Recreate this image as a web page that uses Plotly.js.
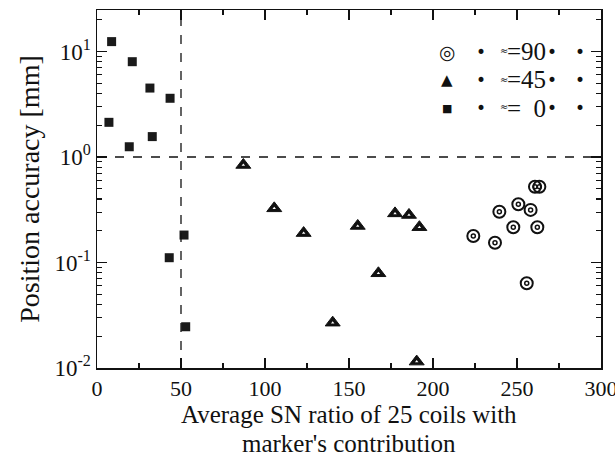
<!DOCTYPE html>
<html>
<head>
<meta charset="utf-8">
<script src="https://cdn.plot.ly/plotly-3.0.1.min.js"></script>
<style>html,body{margin:0;padding:0;background:#fff;}</style>
</head>
<body>
<div id="chart" style="width:615px;height:465px;"></div>
<script>
// Data
const sn0   = [8.7, 21.0, 31.5, 43.5, 7.1, 32.9, 19.2, 51.8, 43.0, 52.8];
const acc0  = [12.4, 8.0, 4.5, 3.6, 2.13, 1.56, 1.25, 0.182, 0.111, 0.0246];
const sn45  = [87.1, 105.5, 123.0, 140.3, 155.2, 167.5, 177.4, 185.7, 191.9, 190.3];
const acc45 = [0.84, 0.326, 0.19, 0.0269, 0.222, 0.079, 0.292, 0.282, 0.216, 0.0115];
const sn90  = [224.0, 236.9, 239.5, 247.8, 250.8, 258.1, 262.1, 260.7, 263.3, 255.8];
const acc90 = [0.178, 0.154, 0.303, 0.216, 0.356, 0.315, 0.216, 0.523, 0.523, 0.0635];
const snThreshold = 50;
const accThreshold = 1;
const xTicks = [0, 50, 100, 150, 200, 250, 300];
const yTicks = [0.01, 0.1, 1, 10];
const yTickText = ["10<sup>-2</sup>", "10<sup>-1</sup>", "10<sup>0</sup>", "10<sup>1</sup>"];
const legendLabels = ["=90", "=45", "=  0"];
const xTitleLines = ["Average SN ratio of 25 coils with", "marker's contribution"];
const yTitle = "Position accuracy [mm]";

const FONT = "Liberation Serif";

const traces = [
  {x: sn0, y: acc0, mode: "markers", type: "scatter", name: "0",
   marker: {symbol: "square", size: 9, color: "#1a1a1a", line: {width: 0}}},
  {x: sn45, y: acc45, mode: "markers", type: "scatter", name: "45",
   marker: {symbol: "triangle-up", size: 13, color: "#111", line: {width: 1, color: "#111"}}},
  {x: sn45, y: acc45, mode: "markers", type: "scatter", name: "45i", showlegend: false,
   marker: {symbol: "triangle-up", size: 3, color: "#fff", line: {width: 0}}},
  {x: sn90, y: acc90, mode: "markers", type: "scatter", name: "90",
   marker: {symbol: "circle-open", size: 12, color: "#111", line: {width: 2, color: "#111"}}},
  {x: sn90, y: acc90, mode: "markers", type: "scatter", name: "90i", showlegend: false,
   marker: {symbol: "circle-open", size: 4, color: "#111", line: {width: 1.5, color: "#111"}}}
];

// layout helpers (pixel layout converted to paper coordinates)
const L = 97, R = 601, T = 10, B = 368;
const px = v => (v - L) / (R - L);
const py = v => (B - v) / (B - T);
const rowsY = [51.5, 80, 108];
const symbols = ["◎", "▲", "■"];
const symSizes = [19, 15, 11];
const annotations = [];
rowsY.forEach((ry, i) => {
  annotations.push({xref: "paper", yref: "paper", x: px(447), y: py(ry), text: symbols[i],
    showarrow: false, font: {family: "DejaVu Sans", size: symSizes[i], color: "#111"}, xanchor: "center", yanchor: "middle"});
  annotations.push({xref: "paper", yref: "paper", x: px(481), y: py(ry), text: "•",
    showarrow: false, font: {family: "DejaVu Sans", size: 17, color: "#111"}, xanchor: "center", yanchor: "middle"});
  annotations.push({xref: "paper", yref: "paper", x: px(510), y: py(ry - 1), text: "≈",
    showarrow: false, font: {family: "DejaVu Sans", size: 10, color: "#111"}, xanchor: "right", yanchor: "middle"});
  annotations.push({xref: "paper", yref: "paper", x: px(548), y: py(ry), text: legendLabels[i],
    showarrow: false, font: {family: FONT, size: 25, color: "#111"}, xanchor: "right", yanchor: "middle"});
  annotations.push({xref: "paper", yref: "paper", x: px(552), y: py(ry), text: "•",
    showarrow: false, font: {family: "DejaVu Sans", size: 17, color: "#111"}, xanchor: "center", yanchor: "middle"});
  annotations.push({xref: "paper", yref: "paper", x: px(580), y: py(ry), text: "•",
    showarrow: false, font: {family: "DejaVu Sans", size: 17, color: "#111"}, xanchor: "center", yanchor: "middle"});
});
// x-axis title, two tightly spaced lines
[414, 443].forEach((ty, i) => {
  annotations.push({xref: "paper", yref: "paper", x: 0.5, y: py(ty), text: xTitleLines[i],
    showarrow: false, font: {family: FONT, size: 25, color: "#111"}, xanchor: "center", yanchor: "middle"});
});

const layout = {
  width: 615, height: 465,
  margin: {l: L, r: 615 - R, t: T, b: 465 - B},
  paper_bgcolor: "#fff", plot_bgcolor: "#fff",
  showlegend: false,
  font: {family: FONT, color: "#111", size: 20},
  xaxis: {
    range: [0, 300], tickvals: xTicks, ticktext: xTicks.map(String),
    ticklabeloverflow: "allow",
    ticks: "inside", ticklen: 10, tickwidth: 1.5, tickcolor: "#111",
    minor: {dtick: 25, tick0: 0, ticks: "inside", ticklen: 5, tickwidth: 1.2, tickcolor: "#111"},
    showline: true, linecolor: "#111", linewidth: 1.5, mirror: "ticks",
    showgrid: false, zeroline: false,
    tickfont: {family: FONT, size: 22, color: "#111"}
  },
  yaxis: {
    type: "log", range: [-2, 1.393], tickvals: yTicks, ticktext: yTickText,
    ticks: "inside", ticklen: 10, tickwidth: 1.5, tickcolor: "#111",
    minor: {dtick: "D1", ticks: "inside", ticklen: 5, tickwidth: 1.2, tickcolor: "#111"},
    showline: true, linecolor: "#111", linewidth: 1.5, mirror: "ticks",
    showgrid: false, zeroline: false,
    tickfont: {family: FONT, size: 23, color: "#111"},
    title: {text: yTitle, standoff: 6,
            font: {family: FONT, size: 28, color: "#111"}}
  },
  shapes: [
    {type: "line", xref: "x", yref: "paper", x0: snThreshold, x1: snThreshold, y0: 0, y1: 1,
     line: {color: "#111", width: 1.3, dash: "dash"}},
    {type: "line", xref: "paper", yref: "y", x0: 0, x1: 1, y0: accThreshold, y1: accThreshold,
     line: {color: "#111", width: 1.3, dash: "dash"}}
  ],
  annotations: annotations
};

Plotly.newPlot("chart", traces, layout, {displayModeBar: false, staticPlot: true});
</script>
</body>
</html>
